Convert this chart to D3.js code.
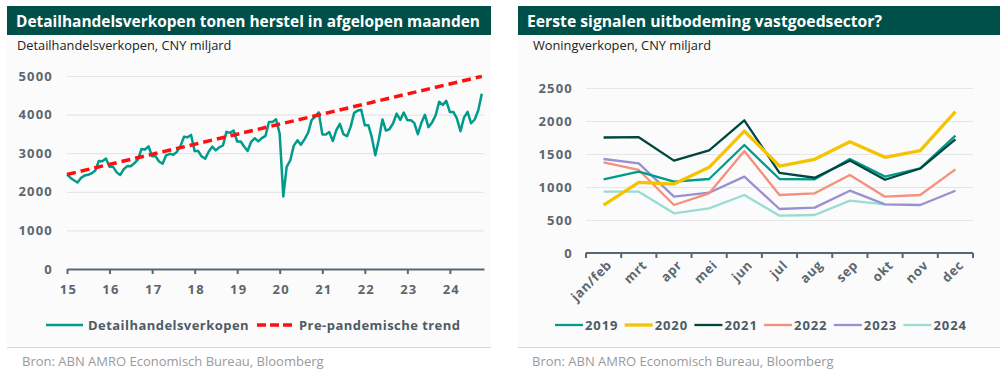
<!DOCTYPE html>
<html>
<head>
<meta charset="utf-8">
<script src="https://cdnjs.cloudflare.com/ajax/libs/d3/7.8.5/d3.min.js"></script>
<style>
  body { margin:0; background:#fff; }
  svg text { font-family:"Open Sans", sans-serif; }
</style>
</head>
<body>
<svg id="chart" width="1002" height="374"></svg>
<script>

	/*
		Data - left panel (retail sales, CNY bn, monthly from Jan 2015)
	 */

	var retailStart = "2015-01";
	var retailSales = [
		2450, 2360, 2300, 2240, 2360, 2420, 2440, 2480, 2550, 2800, 2790, 2860,
		2646, 2646, 2510, 2434, 2581, 2666, 2660, 2740, 2832, 3108, 3096, 3176,
		2918, 2918, 2786, 2728, 2946, 2984, 2961, 3033, 3183, 3424, 3411, 3473,
		3054, 3054, 2919, 2854, 3036, 3171, 3073, 3154, 3201, 3553, 3526, 3589,
		3303, 3303, 3173, 3059, 3296, 3388, 3307, 3390, 3450, 3810, 3809, 3878,
		3500, 1880, 2645, 2818, 3197, 3333, 3220, 3357, 3530, 3858, 3951, 4057,
		3487, 3487, 3548, 3315, 3595, 3759, 3493, 3440, 3683, 4045, 4104, 4127,
		3721, 3721, 3423, 2948, 3355, 3874, 3587, 3626, 3775, 4027, 3862, 4054,
		3853, 3853, 3786, 3491, 3780, 3995, 3676, 3793, 3983, 4333, 4251, 4355,
		4065, 4065, 3902, 3570, 3921, 4073, 3776, 3873, 4111, 4540
	];
	var trendDates = ["2015-01", "2024-10"];
	var trendValues = [2450, 4990];
	var leftYTicks = [0, 1000, 2000, 3000, 4000, 5000];
	var leftXTicks = ["2015", "2016", "2017", "2018", "2019", "2020", "2021", "2022", "2023", "2024"];

	/*
		Data - right panel (home sales, CNY bn)
	 */

	var months = ["jan/feb", "mrt", "apr", "mei", "jun", "jul", "aug", "sep", "okt", "nov", "dec"];
	var years = ["2019", "2020", "2021", "2022", "2023", "2024"];
	var sales2019 = [1116, 1232, 1081, 1121, 1636, 1121, 1116, 1424, 1157, 1283, 1778];
	var sales2020 = [727, 1071, 1045, 1298, 1848, 1318, 1419, 1687, 1449, 1550, 2141];
	var sales2021 = [1750, 1755, 1400, 1555, 2010, 1215, 1140, 1400, 1110, 1280, 1720];
	var sales2022 = [1374, 1258, 727, 904, 1545, 879, 904, 1182, 853, 879, 1268];
	var sales2023 = [1424, 1359, 853, 914, 1157, 667, 687, 944, 737, 727, 944];
	var sales2024 = [929, 929, 601, 677, 879, 566, 576, 793, 737];
	var rightYTicks = [0, 500, 1000, 1500, 2000, 2500];

	var yearColors = ["#009b8b", "#f5c400", "#00473f", "#f4907c", "#9a8fd2", "#98dcd3"];
	var yearWidths = [2.3, 3.3, 2.3, 2.3, 2.3, 2.3];

	var teal = "#009b8b",
		dark = "#00504a",
		axisGrey = "#5b6770",
		gridGrey = "#e6e6e6";

	var svg = d3.select('#chart');
	var parseMonth = d3.timeParse("%Y-%m");

	/*
		Panel frame: header bar, subtitle, legend separator, source
	 */

	function panel(x0, x1, title, titleWidth, subtitle, indent, sourceIndent) {
		svg.append('rect')
			.attr('x', x0).attr('y', 36).attr('width', x1 - x0).attr('height', 310)
			.attr('fill', '#fbfbfb');
		svg.append('rect')
			.attr('x', x0).attr('y', 6).attr('width', x1 - x0).attr('height', 29)
			.attr('fill', dark);
		svg.append('text')
			.attr('x', x0 + 9).attr('y', 27)
			.attr('fill', '#fff').attr('font-size', 15.5).attr('font-weight', 700)
			.attr('textLength', titleWidth).attr('lengthAdjust', 'spacingAndGlyphs')
			.text(title);
		svg.append('text')
			.attr('x', x0 + indent).attr('y', 50)
			.attr('fill', '#222').attr('font-size', 12.8)
			.text(subtitle);
		svg.append('line')
			.attr('x1', x0).attr('x2', x1).attr('y1', 347.5).attr('y2', 347.5)
			.attr('stroke', '#d4d4d4').attr('stroke-width', 1);
		svg.append('text')
			.attr('x', x0 + sourceIndent).attr('y', 366)
			.attr('fill', '#9a9a9a').attr('font-size', 13)
			.text("Bron: ABN AMRO Economisch Bureau, Bloomberg");
	}

	panel(7, 491, "Detailhandelsverkopen tonen herstel in afgelopen maanden", 464, "Detailhandelsverkopen, CNY miljard", 10, 15);
	panel(518, 1000, "Eerste signalen uitbodeming vastgoedsector?", 355, "Woningverkopen, CNY miljard", 15, 14);

	function styleTickText(sel) {
		sel.attr('fill', axisGrey)
			.attr('font-size', 13).attr('font-weight', 700)
			.attr('letter-spacing', 1.2)
			.style('font-family', '"Open Sans", sans-serif');
	}

	/*
		Left chart
	 */

	var lx = d3.scaleTime()
		.domain([parseMonth("2015-01"), new Date(2024, 9, 20)])
		.range([67, 484]);
	var ly = d3.scaleLinear().domain([0, 5000]).range([269, 76]);

	var left = svg.append('g');

	left.append('g')
		.attr('transform', 'translate(67,0)')
		.call(d3.axisLeft(ly).tickValues(leftYTicks).tickSize(-417).tickFormat(d3.format("d")))
		.call(function(g){
			g.select('.domain').remove();
			g.selectAll('.tick line').attr('stroke', gridGrey).attr('stroke-width', 1.2);
			g.selectAll('.tick text').attr('x', -14).call(styleTickText);
		});

	left.append('g')
		.attr('transform', 'translate(0,269)')
		.call(d3.axisBottom(lx).tickValues(leftXTicks.map(function(y){ return parseMonth(y + "-01"); }))
			.tickSize(5).tickSizeOuter(0).tickFormat(d3.timeFormat("%y")))
		.call(function(g){
			g.select('.domain').attr('stroke', axisGrey).attr('stroke-width', 2);
			g.selectAll('.tick line').attr('stroke', axisGrey).attr('stroke-width', 2);
			g.selectAll('.tick text').attr('y', 16).attr('dx', 1).call(styleTickText);
		});

	var retailPoints = retailSales.map(function(v, i){
		return { date: d3.timeMonth.offset(parseMonth(retailStart), i), value: v };
	});

	left.append('path')
		.datum(retailPoints)
		.attr('fill', 'none').attr('stroke', teal).attr('stroke-width', 2.5)
		.attr('stroke-linejoin', 'round')
		.attr('d', d3.line().x(function(d){ return lx(d.date); }).y(function(d){ return ly(d.value); }));

	left.append('path')
		.datum(trendDates.map(function(d, i){ return { date: parseMonth(d), value: trendValues[i] }; }))
		.attr('fill', 'none').attr('stroke', '#ff1010').attr('stroke-width', 3.5)
		.attr('stroke-dasharray', '9,5')
		.attr('d', d3.line().x(function(d){ return lx(d.date); }).y(function(d){ return ly(d.value); }));

	// legend left
	var leftLegend = [
		{ label: "Detailhandelsverkopen", color: teal, dash: null, x: 46 },
		{ label: "Pre-pandemische trend", color: '#ff1010', dash: '9,4', x: 257 }
	];
	leftLegend.forEach(function(l){
		svg.append('line')
			.attr('x1', l.x).attr('x2', l.x + 37).attr('y1', 325).attr('y2', 325)
			.attr('stroke', l.color).attr('stroke-width', l.dash ? 3.5 : 2.4)
			.attr('stroke-dasharray', l.dash);
		svg.append('text')
			.attr('x', l.x + 42).attr('y', 330)
			.attr('fill', '#4d5b66').attr('font-size', 13).attr('font-weight', 700)
			.attr('letter-spacing', 0.45)
			.text(l.label);
	});

	/*
		Right chart
	 */

	var rx = d3.scaleBand().domain(months).range([586, 973]);
	var ry = d3.scaleLinear().domain([0, 2500]).range([253, 88]);

	var right = svg.append('g');

	right.append('g')
		.attr('transform', 'translate(586,0)')
		.call(d3.axisLeft(ry).tickValues(rightYTicks).tickSize(-387).tickFormat(d3.format("d")))
		.call(function(g){
			g.select('.domain').remove();
			g.selectAll('.tick line').attr('stroke', gridGrey).attr('stroke-width', 1.2);
			g.selectAll('.tick text').attr('x', -13).call(styleTickText);
		});

	var bottom = right.append('g').attr('transform', 'translate(0,253)');
	bottom.append('line')
		.attr('x1', 586).attr('x2', 973)
		.attr('stroke', axisGrey).attr('stroke-width', 2);
	bottom.selectAll('line.tk')
		.data(months.concat(["end"]))
		.enter().append('line').attr('class', 'tk')
		.attr('x1', function(d, i){ return i < months.length ? rx(d) : rx.range()[1]; })
		.attr('x2', function(d, i){ return i < months.length ? rx(d) : rx.range()[1]; })
		.attr('y1', 0).attr('y2', 5)
		.attr('stroke', axisGrey).attr('stroke-width', 2);
	bottom.selectAll('text')
		.data(months)
		.enter().append('text')
		.attr('transform', function(d){ return 'translate(' + (rx(d) + rx.bandwidth() / 2 + 9) + ',13) rotate(-45)'; })
		.attr('text-anchor', 'end')
		.call(styleTickText)
		.attr('letter-spacing', 0.6)
		.text(function(d){ return d; });

	var yearSeries = [sales2019, sales2020, sales2021, sales2022, sales2023, sales2024];
	var drawOrder = [5, 4, 3, 0, 2, 1];

	drawOrder.forEach(function(k){
		right.append('path')
			.datum(yearSeries[k])
			.attr('fill', 'none').attr('stroke', yearColors[k]).attr('stroke-width', yearWidths[k])
			.attr('stroke-linejoin', 'round')
			.attr('d', d3.line()
				.x(function(d, i){ return rx(months[i]) + rx.bandwidth() / 2; })
				.y(function(d){ return ry(d); }));
	});

	// legend right
	years.forEach(function(y, i){
		var x = 555 + i * 69.7;
		svg.append('line')
			.attr('x1', x).attr('x2', x + 28).attr('y1', 325).attr('y2', 325)
			.attr('stroke', yearColors[i]).attr('stroke-width', yearWidths[i]);
		svg.append('text')
			.attr('x', x + 30).attr('y', 330)
			.attr('fill', '#4d5b66').attr('font-size', 13).attr('font-weight', 700)
			.attr('letter-spacing', 0.9)
			.text(y);
	});

</script>
</body>
</html>
